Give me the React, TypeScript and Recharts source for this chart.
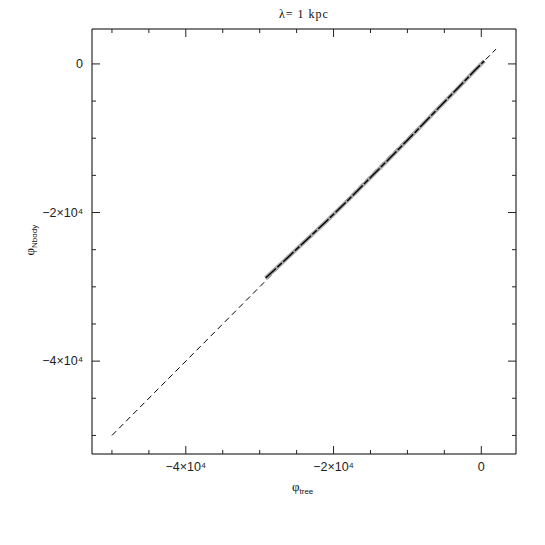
import React from 'react';
import { ComposedChart, Line, XAxis, YAxis } from 'recharts';

// dashed reference line phi_Nbody = phi_tree
const diagTree = [-50000, 2000];
const diagNbody = [-50000, 2000];

// band of particles (phi_tree, phi_Nbody)
const bandTree = [-29200, -27000, -24000, -21000, -18000, -15000, -12000, -9000, -6000, -3000, -1000, 400];
const bandNbody = [-28800, -26800, -24000, -21200, -18300, -15300, -12300, -9250, -6150, -3080, -1000, 400];

const tickValues = [-50000, -45000, -40000, -35000, -30000, -25000, -20000, -15000, -10000, -5000, 0];
const majorTicks = [-40000, -20000, 0];
const majorLabels = ['−4×10⁴', '−2×10⁴', '0'];

const xDomain = [-52700, 4700];
const yDomain = [-52500, 4700];

const titleText = 'λ= 1 kpc';
const symbol = 'φ';
const xSub = 'tree';
const ySub = 'Nbody';

const diagData = diagTree.map((x, i) => ({ x, y: diagNbody[i] }));
const bandData = bandTree.map((x, i) => ({ x, y: bandNbody[i] }));

const TICK_FONT = "'Liberation Sans', 'DejaVu Sans', sans-serif";
const SERIF = "'Liberation Serif', 'DejaVu Serif', serif";

const BottomTick = (props: any) => {
  const { x, y, payload } = props;
  const mi = majorTicks.indexOf(payload.value);
  const len = mi >= 0 ? 8 : 4;
  return (
    <g>
      <line x1={x} x2={x} y1={y} y2={y - len} stroke="#222" strokeWidth={1} />
      {mi >= 0 && (
        <text x={x} y={y + 17} textAnchor="middle" fontSize={12.5} fontFamily={TICK_FONT} fill="#222">
          {majorLabels[mi]}
        </text>
      )}
    </g>
  );
};

const TopTick = (props: any) => {
  const { x, y, payload } = props;
  const mi = majorTicks.indexOf(payload.value);
  const len = mi >= 0 ? 8 : 4;
  return <line x1={x} x2={x} y1={y} y2={y + len} stroke="#222" strokeWidth={1} />;
};

const LeftTick = (props: any) => {
  const { x, y, payload } = props;
  const mi = majorTicks.indexOf(payload.value);
  const len = mi >= 0 ? 8 : 4;
  return (
    <g>
      <line x1={x} x2={x + len} y1={y} y2={y} stroke="#222" strokeWidth={1} />
      {mi >= 0 && (
        <text x={x - 9} y={y + 4} textAnchor="end" fontSize={12.5} fontFamily={TICK_FONT} fill="#222">
          {majorLabels[mi]}
        </text>
      )}
    </g>
  );
};

const RightTick = (props: any) => {
  const { x, y, payload } = props;
  const mi = majorTicks.indexOf(payload.value);
  const len = mi >= 0 ? 8 : 4;
  return <line x1={x} x2={x - len} y1={y} y2={y} stroke="#222" strokeWidth={1} />;
};

const XLabel = (props: any) => {
  const vb = props.viewBox || {};
  const cx = vb.x + vb.width / 2;
  return (
    <text x={cx - 12} y={vb.y + 37} fontFamily={SERIF} fill="#111">
      <tspan fontSize={13}>{symbol}</tspan>
      <tspan fontSize={8} dy={3} fontFamily={TICK_FONT}>{xSub}</tspan>
    </text>
  );
};

const YLabel = (props: any) => {
  const vb = props.viewBox || {};
  const cy = vb.y + vb.height / 2;
  const px = 26;
  return (
    <text x={0} y={0} transform={`translate(${px}, ${cy + 14}) rotate(-90)`} fontFamily={SERIF} fill="#111">
      <tspan fontSize={13}>{symbol}</tspan>
      <tspan fontSize={8} dy={3} fontFamily={TICK_FONT}>{ySub}</tspan>
    </text>
  );
};

const TitleLabel = (props: any) => {
  const vb = props.viewBox || {};
  const cx = vb.x + vb.width / 2;
  return (
    <text x={cx} y={10} textAnchor="middle" fontSize={12} fontFamily={SERIF} fill="#111" letterSpacing={1} style={{ whiteSpace: 'pre' }}>
      {titleText}
    </text>
  );
};

export default function App() {
  return (
    <div style={{ width: 529, height: 529, background: '#fff' }}>
      <ComposedChart width={529} height={529} margin={{ top: 20, right: 20, bottom: 43, left: 0 }}>
        <XAxis
          xAxisId="b"
          type="number"
          dataKey="x"
          orientation="bottom"
          domain={xDomain}
          allowDataOverflow
          ticks={tickValues}
          interval={0}
          height={40}
          tickSize={0}
          tickMargin={0}
          tickLine={false}
          axisLine={{ stroke: '#000', strokeWidth: 1 }}
          tick={<BottomTick />}
          label={<XLabel />}
        />
        <XAxis
          xAxisId="t"
          type="number"
          dataKey="x"
          orientation="top"
          domain={xDomain}
          allowDataOverflow
          ticks={tickValues}
          interval={0}
          height={1}
          tickSize={0}
          tickMargin={0}
          tickLine={false}
          axisLine={{ stroke: '#000', strokeWidth: 1 }}
          tick={<TopTick />}
          label={<TitleLabel />}
        />
        <YAxis
          yAxisId="l"
          type="number"
          dataKey="y"
          orientation="left"
          domain={yDomain}
          allowDataOverflow
          ticks={tickValues}
          interval={0}
          width={84}
          tickSize={0}
          tickMargin={0}
          tickLine={false}
          axisLine={{ stroke: '#000', strokeWidth: 1 }}
          tick={<LeftTick />}
          label={<YLabel />}
        />
        <YAxis
          yAxisId="r"
          type="number"
          dataKey="y"
          orientation="right"
          domain={yDomain}
          allowDataOverflow
          ticks={tickValues}
          interval={0}
          width={1}
          tickSize={0}
          tickMargin={0}
          tickLine={false}
          axisLine={{ stroke: '#000', strokeWidth: 1 }}
          tick={<RightTick />}
        />
        <Line
          xAxisId="b"
          yAxisId="l"
          data={diagData}
          dataKey="y"
          type="linear"
          stroke="#000"
          strokeWidth={1}
          strokeDasharray="6 4"
          dot={false}
          activeDot={false}
          isAnimationActive={false}
        />
        <Line
          xAxisId="b"
          yAxisId="l"
          data={bandData}
          dataKey="y"
          type="linear"
          stroke="#a8a8a8"
          strokeWidth={4}
          dot={false}
          activeDot={false}
          isAnimationActive={false}
        />
        <Line
          xAxisId="b"
          yAxisId="l"
          data={bandData}
          dataKey="y"
          type="linear"
          stroke="#000"
          strokeWidth={1.4}
          strokeDasharray="14 2 6 2"
          dot={false}
          activeDot={false}
          isAnimationActive={false}
        />
      </ComposedChart>
    </div>
  );
}
